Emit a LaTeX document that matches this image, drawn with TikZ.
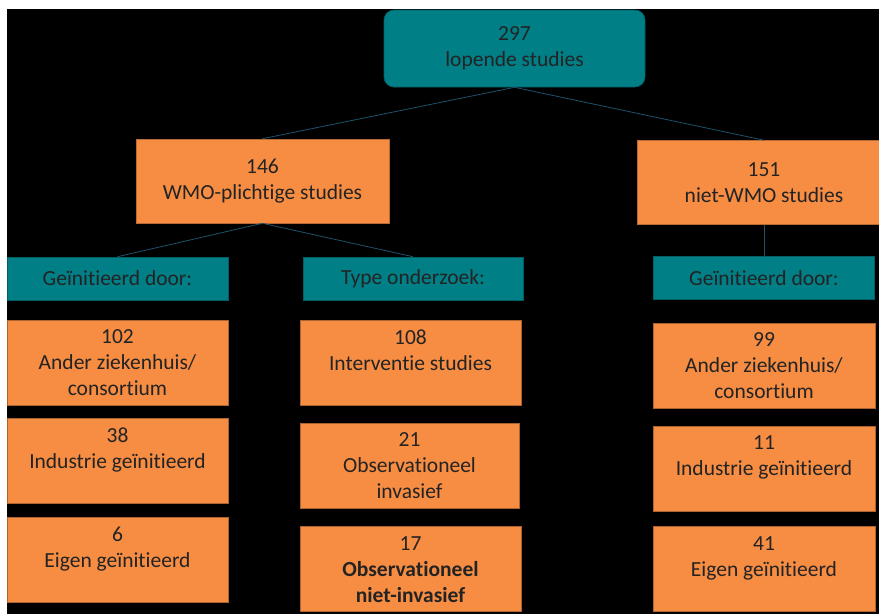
\documentclass[tikz,border=0pt]{standalone}
\usepackage{fontspec}
\setmainfont{Carlito}[Ligatures={NoCommon,NoContextual,NoRare}, Contextuals=NoAlternate]
\usetikzlibrary{positioning}
\definecolor{boxorange}{RGB}{246,141,67}
\definecolor{boxteal}{RGB}{0,127,134}
\definecolor{linkblue}{RGB}{30,82,108}
\definecolor{txtdark}{RGB}{35,35,35}
\newcommand{\boxfont}{\fontsize{21.5}{26}\selectfont}

\begin{document}
\begin{tikzpicture}[x=1pt,y=-1pt]
	\tikzset{rootbox/.style={rectangle, draw=boxteal!75!black, fill=boxteal, rounded corners=10pt, minimum width=261pt, minimum height=77pt, align=center, text=txtdark, font=\boxfont, line width=0.6pt}};
	\tikzset{midbox/.style={rectangle, draw=boxorange!75!black, fill=boxorange, minimum width=253pt, minimum height=84pt, align=center, text=txtdark, font=\boxfont, line width=0.6pt}};
	\tikzset{headbox/.style={rectangle, draw=boxteal!75!black, fill=boxteal, minimum width=221pt, minimum height=43pt, align=center, text=txtdark, font=\boxfont, line width=0.6pt}};
	\tikzset{leafbox/.style={rectangle, draw=boxorange!70!black, fill=boxorange, minimum width=221pt, minimum height=85pt, line width=0.6pt}};
	\tikzset{leaftext/.style={anchor=north, align=center, inner sep=0pt, yshift=-10pt, text=txtdark, font=\boxfont}};
	\tikzset{link/.style={draw=linkblue, line width=0.8pt}};
	% Background
	\clip (0,0) rectangle (879,614);
	\fill[white] (0,0) rectangle (879,614);
	\fill[black] (7,9) rectangle (879,614);
	% Place nodes
	\node [rootbox] (root) at (514.5,48.5) {297\\lopende studies};
	\node [midbox] (wmo) at (262.5,181) {146\\WMO-plichtige studies};
	\node [midbox] (nwmo) at (764,182.5) {151\\niet-WMO studies};
	\draw [link] (root.south) -- (wmo.north);
	\draw [link] (root.south) -- (nwmo.north);

	\node [headbox] (winit) at (117.5,278.5) {Geïnitieerd door:};
	\node [headbox, minimum width=220pt] (wtype) at (413,278.5) {Type onderzoek:};
	\node [headbox] (ninit) at (764,278) {Geïnitieerd door:};
	\draw [link] (wmo.south) -- (winit.north);
	\draw [link] (wmo.south) -- (wtype.north);
	\draw [link] (nwmo.south) -- (ninit.north);

	% WMO, geinitieerd door
	\node [leafbox] (wander) at (117.5,362.5) {};
	\node [leaftext] (wander-t) at (wander.north) {102\\Ander ziekenhuis/\\consortium};
	\node [leafbox] (windus) at (117.5,460.5) {};
	\node [leaftext] (windus-t) at (windus.north) {38\\Industrie geïnitieerd};
	\node [leafbox] (weigen) at (117.5,560) {};
	\node [leaftext] (weigen-t) at (weigen.north) {6\\Eigen geïnitieerd};
	% WMO, type onderzoek
	\node [leafbox] (winterv) at (410.5,362.5) {};
	\node [leaftext] (winterv-t) at (winterv.north) {108\\Interventie studies};
	\node [leafbox, minimum width=219pt] (wobsinv) at (409.5,465.5) {};
	\node [leaftext] (wobsinv-t) at (wobsinv.north) {21\\Observationeel\\invasief};
	\node [leafbox] (wobsniet) at (410.5,569) {};
	\node [leaftext] (wobsniet-t) at (wobsniet.north) {17\\\textbf{Observationeel}\\\textbf{niet-invasief}};
	% niet-WMO, geinitieerd door
	\node [leafbox, minimum width=222pt] (nander) at (764,365.5) {};
	\node [leaftext] (nander-t) at (nander.north) {99\\Ander ziekenhuis/\\consortium};
	\node [leafbox, minimum width=222pt] (nindus) at (764,468.5) {};
	\node [leaftext] (nindus-t) at (nindus.north) {11\\Industrie geïnitieerd};
	\node [leafbox, minimum width=222pt] (neigen) at (764,569) {};
	\node [leaftext] (neigen-t) at (neigen.north) {41\\Eigen geïnitieerd};
\end{tikzpicture}
\end{document}
